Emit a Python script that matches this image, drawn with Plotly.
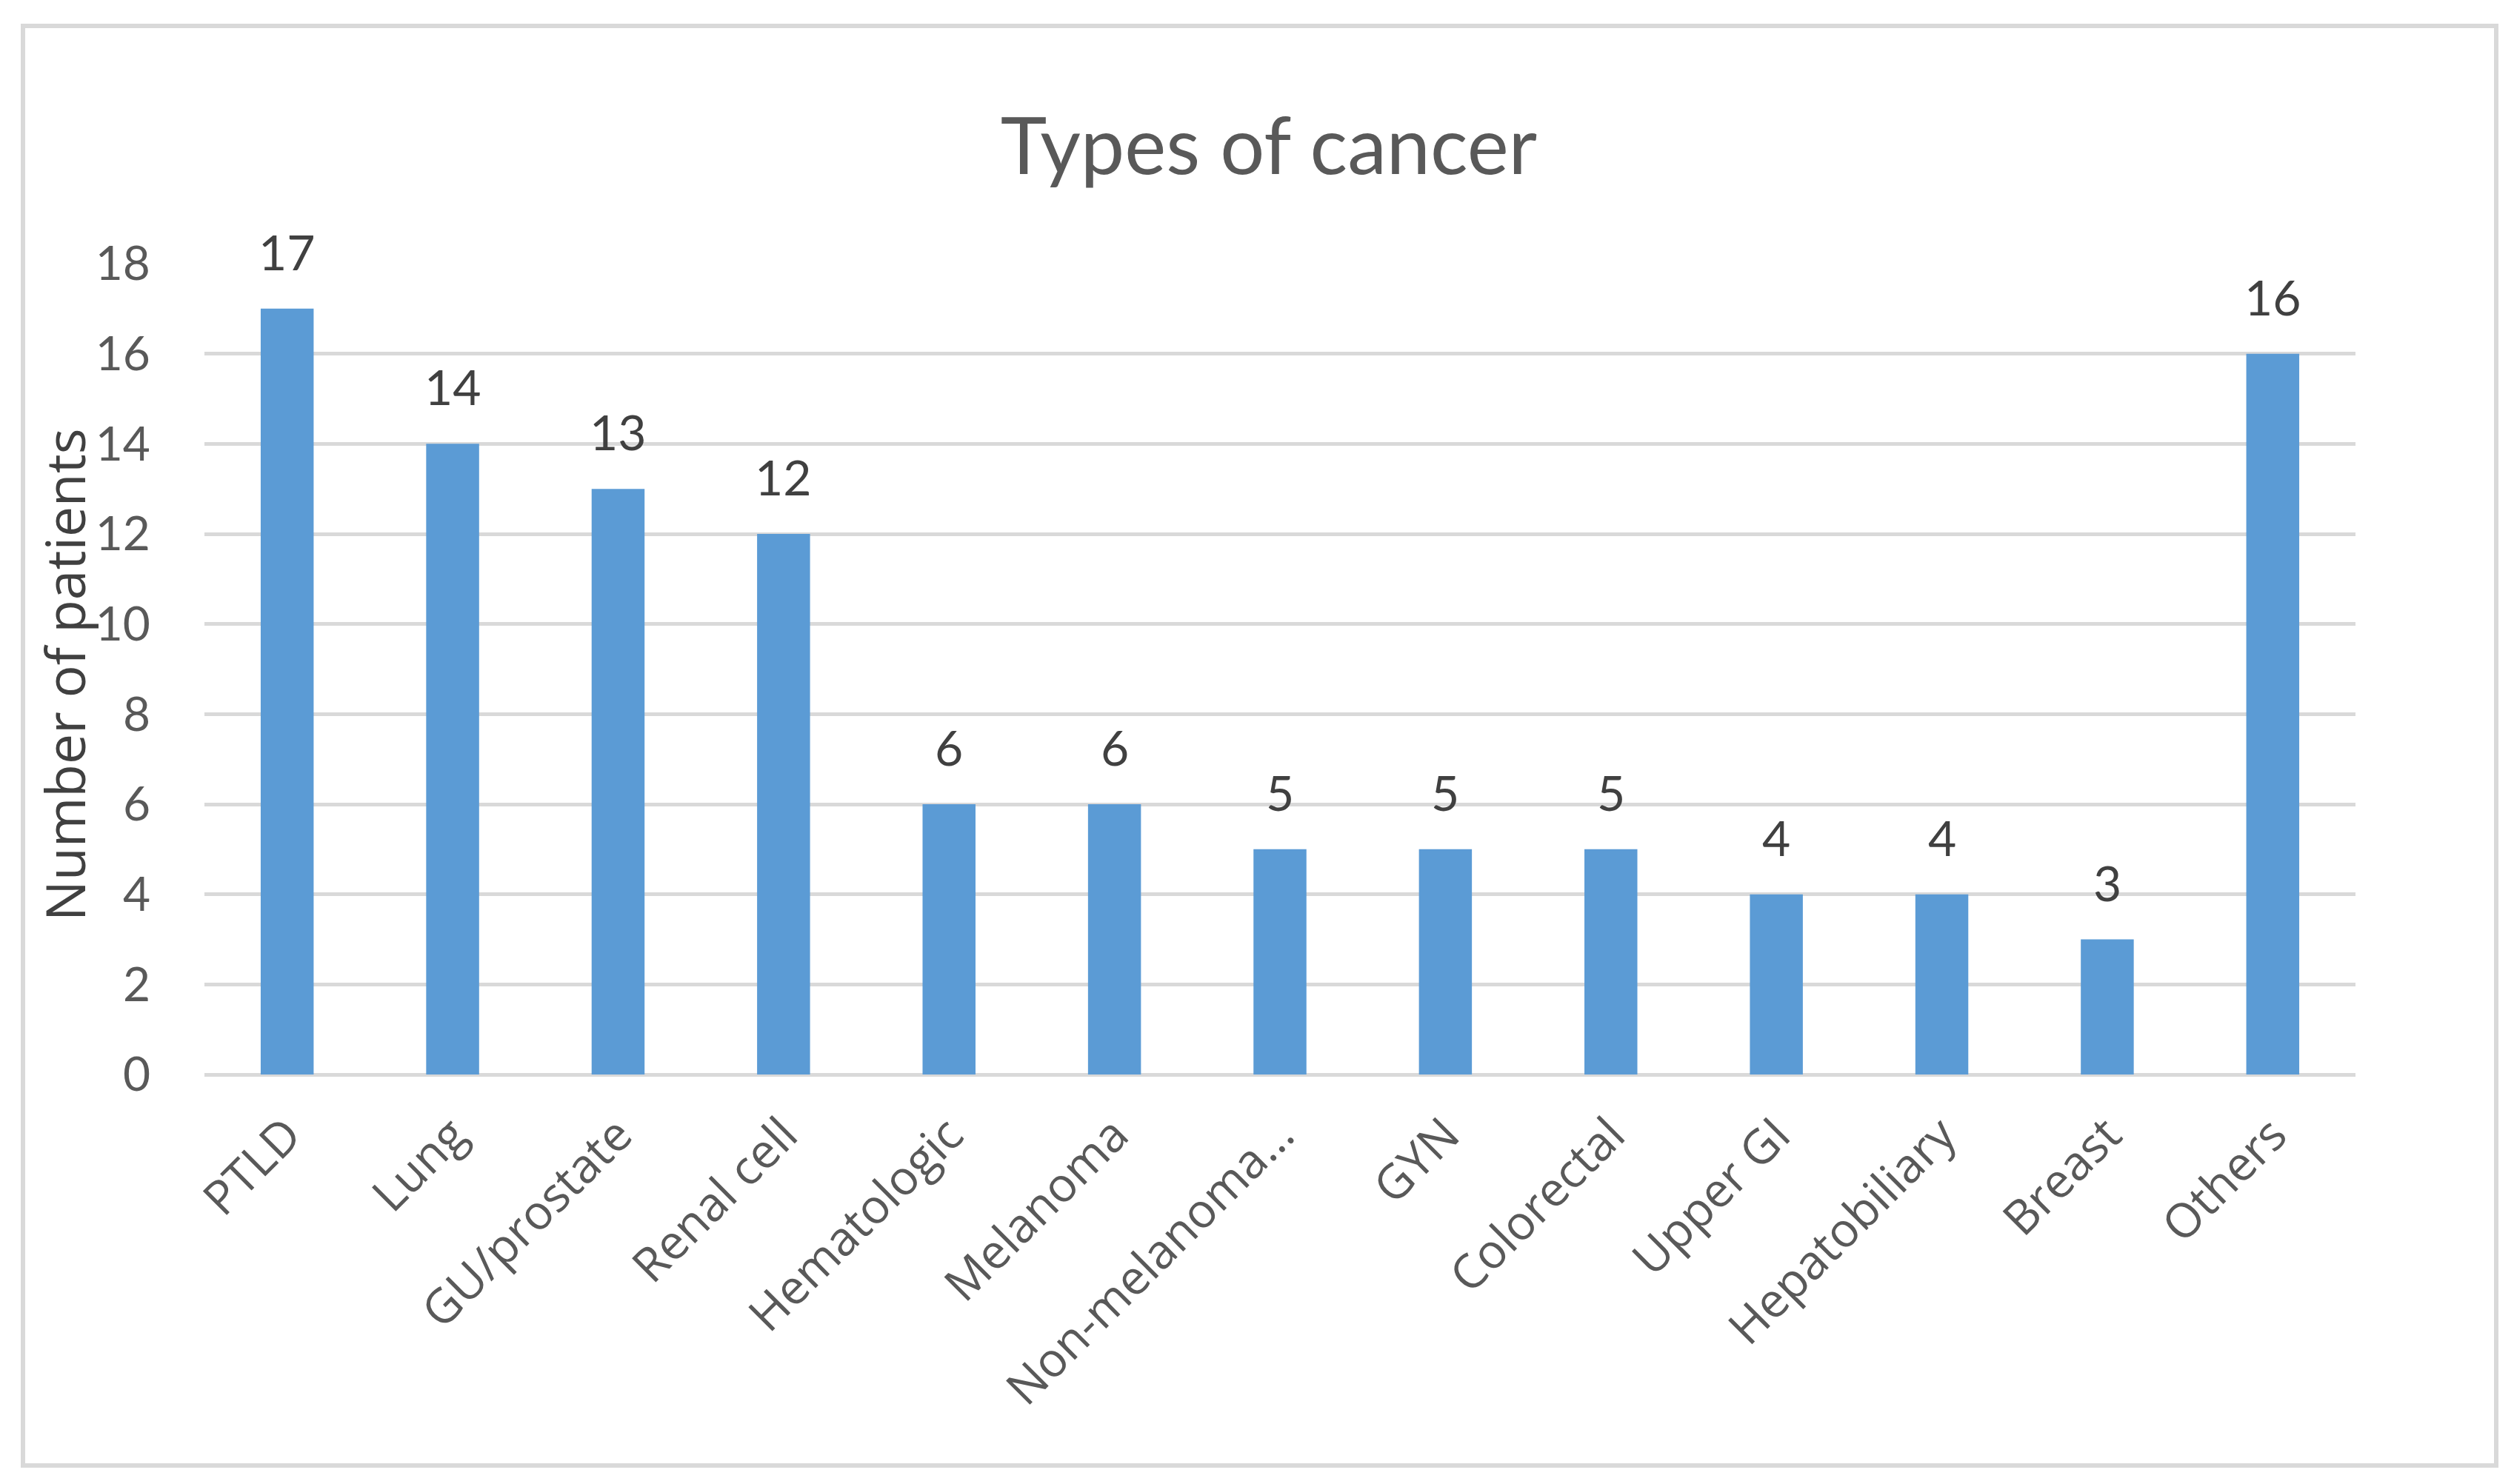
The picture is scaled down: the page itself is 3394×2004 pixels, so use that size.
import plotly.graph_objects as go

categories = ["PTLD", "Lung", "GU/prostate", "Renal cell", "Hematologic", "Melanoma",
              "Non-melanoma…", "GYN", "Colorectal", "Upper GI", "Hepatobiliary", "Breast", "Others"]
patients = [17, 14, 13, 12, 6, 6, 5, 5, 5, 4, 4, 3, 16]
y_ticks = [0, 2, 4, 6, 8, 10, 12, 14, 16, 18]

W, H = 3394, 2004
L, R, T, B = 268, 222, 348, 561
FONT = "Lato"
FONT2 = "Open Sans"

fig = go.Figure()
fig.add_trace(go.Bar(
    x=categories, y=patients,
    marker=dict(color="#5B9BD5", line=dict(width=0)),
    hoverinfo="x+y", cliponaxis=False,
))

for c, v in zip(categories, patients):
    fig.add_annotation(x=c, y=v, text=str(v), showarrow=False,
                       xref="x", yref="y", yanchor="bottom", yshift=36,
                       font=dict(family=FONT, size=66, color="#404040"))

pw = W - L - R
ph = H - T - B
def px_x(p):
    return (p - L) / pw
def px_y(p):
    return (H - B - p) / ph

fig.add_annotation(x=px_x(78), y=px_y(904), xref="paper", yref="paper",
                   text="Number of patients", textangle=-90, showarrow=False,
                   xanchor="center", yanchor="middle",
                   font=dict(family=FONT2, size=73, color="#404040"))

fig.add_shape(type="rect", xref="paper", yref="paper",
              x0=px_x(23), x1=px_x(3362), y0=px_y(1971), y1=px_y(27),
              line=dict(color="#D9D9D9", width=6), fillcolor="rgba(0,0,0,0)", layer="below")

fig.update_layout(
    width=W, height=H,
    margin=dict(l=L, r=R, t=T, b=B, autoexpand=False),
    paper_bgcolor="white", plot_bgcolor="white",
    bargap=0.68,
    showlegend=False,
    title=dict(text="Types of cancer", x=1705 / W, xref="container", xanchor="center",
               y=1 - 190 / H, yref="container", yanchor="middle",
               font=dict(family=FONT, size=106, color="#595959")),
    xaxis=dict(
        type="category", tickangle=-45, showgrid=False, showline=False, zeroline=False,
        ticks="", ticklabelstandoff=30,
        tickfont=dict(family=FONT2, size=64, color="#595959"),
    ),
    yaxis=dict(
        range=[0, 18], tickvals=y_ticks, showgrid=True, gridcolor="#D9D9D9", gridwidth=5,
        zeroline=True, zerolinecolor="#D9D9D9", zerolinewidth=5, showline=False,
        ticks="", ticklabelstandoff=72,
        tickfont=dict(family=FONT, size=64, color="#595959"),
    ),
)

fig.write_html("out.html")
